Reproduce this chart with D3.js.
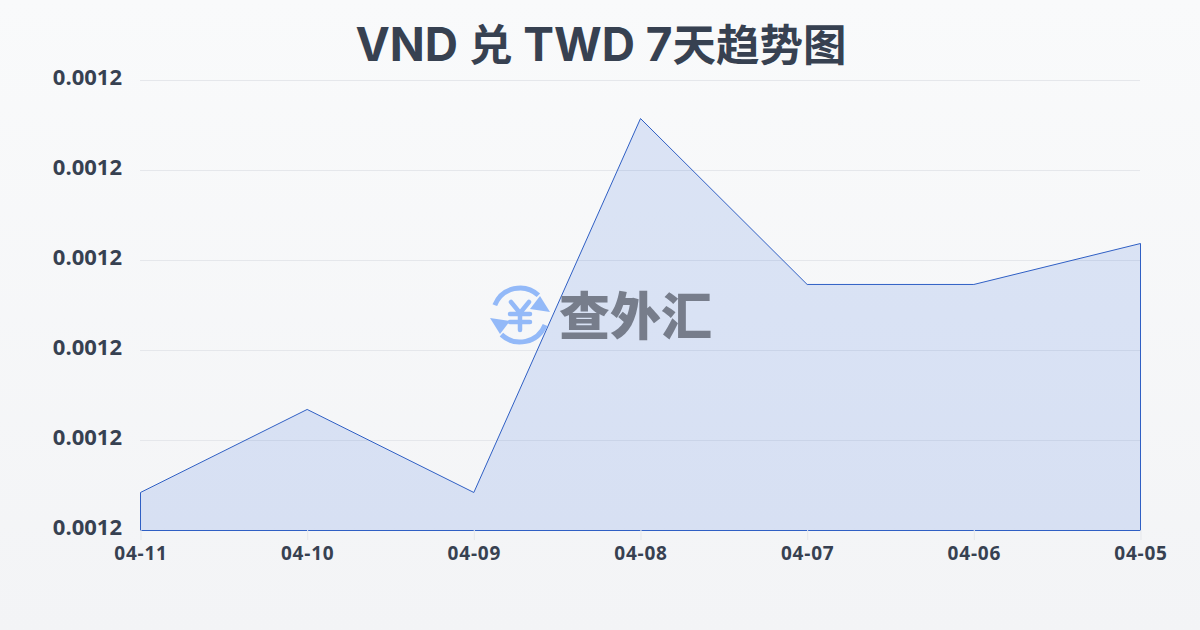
<!DOCTYPE html>
<html><head><meta charset="utf-8">
<script src="https://cdn.jsdelivr.net/npm/d3@7"></script>
<style>html,body{margin:0;padding:0;width:1200px;height:630px;overflow:hidden}svg{display:block}</style>
</head><body><svg id="c" width="1200" height="630"></svg>
<script>
const titleParts = ["VND ","兑"," TWD 7","天趋势图"];
const dates = ["04-11","04-10","04-09","04-08","04-07","04-06","04-05"];
const rates = [0.00120338,0.00121076,0.00120338,0.00123662,0.00122187,0.00122187,0.00122551];
const yTicks = [0.0012,0.001208,0.001216,0.001224,0.001232,0.00124];
const svg = d3.select("#c");
const defs = svg.append("defs");
const g0 = defs.append("linearGradient").attr("id","bg").attr("x1",0).attr("y1",0).attr("x2",0).attr("y2",1);
g0.append("stop").attr("offset",0).attr("stop-color","#f9fafb");
g0.append("stop").attr("offset",1).attr("stop-color","#f3f4f6");
svg.append("rect").attr("width",1200).attr("height",630).attr("fill","url(#bg)");
const x = d3.scalePoint().domain(dates).range([140.5,1140.5]);
const y = d3.scaleLinear().domain([yTicks[0],yTicks[5]]).range([530.5,80.5]);
const labelFont = "'Open Sans','Noto Sans',sans-serif";
const title = svg.append("text").attr("x",601).attr("y",61).attr("text-anchor","middle")
  .attr("font-family","Inter,'Noto Sans CJK SC',sans-serif").attr("font-weight",700).attr("fill","#374151");
title.selectAll("tspan").data(titleParts).join("tspan")
  .attr("font-size",(d,i)=>i%2?43.5:46).attr("xml:space","preserve").style("white-space","pre").text(d=>d);
const yAxis = svg.append("g").attr("transform","translate(140,0)")
  .call(d3.axisLeft(y).tickValues(yTicks).tickFormat(d3.format(".4f")).tickSize(0).tickPadding(18));
yAxis.select(".domain").remove();
yAxis.selectAll("text").attr("font-family",labelFont).attr("font-weight",700).attr("font-size",22).attr("fill","#374151").attr("dy","0.2em");
svg.append("g").selectAll("line").data(yTicks.slice(1)).join("line")
  .attr("x1",140).attr("x2",1140).attr("y1",d=>y(d)).attr("y2",d=>y(d)).attr("stroke","#e5e7eb").attr("stroke-width",1);
const data = dates.map((d,i)=>({d,v:rates[i]}));
const area = d3.area().x(d=>x(d.d)).y0(y(yTicks[0])).y1(d=>y(d.v));
svg.append("path").datum(data).attr("d",area).attr("fill","#1a56db").attr("fill-opacity",0.13)
  .attr("stroke","#2f5fc4").attr("stroke-width",1).attr("stroke-linejoin","round");
const xAxis = svg.append("g").attr("transform","translate(0,530)")
  .call(d3.axisBottom(x).tickSize(10).tickPadding(3));
xAxis.select(".domain").remove();
xAxis.selectAll("line").attr("stroke","#e5e7eb");
xAxis.selectAll("text").attr("font-family",labelFont).attr("font-weight",700).attr("font-size",19).attr("letter-spacing","0.8px").attr("fill","#374151").attr("y",30).attr("dy",0);
// watermark
const wm = svg.append("g");
const ic = wm.append("g").attr("transform","translate(520,315)").attr("fill","none").attr("stroke","#93b9f8").attr("stroke-width",5);
const arc = d3.arc().innerRadius(27).outerRadius(27);
ic.append("path").attr("d",arc({startAngle:-1.2,endAngle:0.75}));
ic.append("path").attr("d",arc({startAngle:1.95,endAngle:3.9}));
ic.append("path").attr("d","M20,-19 L30,-3 L10,-6 Z").attr("fill","#93b9f8").attr("stroke","none");
ic.append("path").attr("d","M-20,19 L-30,3 L-10,6 Z").attr("fill","#93b9f8").attr("stroke","none");
ic.append("path").attr("d","M-9,-13 L0,-2 L9,-13 M0,-2 V15 M-10,-1 H10 M-10,7 H10").attr("stroke-width",4.5).attr("stroke-linecap","round").attr("stroke-linejoin","round");
wm.append("text").attr("x",559).attr("y",335).attr("font-family","'Noto Sans CJK SC',sans-serif").attr("font-weight",900).attr("font-size",51)
  .attr("fill","#6b7280").attr("fill-opacity",0.9).text("查外汇");
</script></body></html>
